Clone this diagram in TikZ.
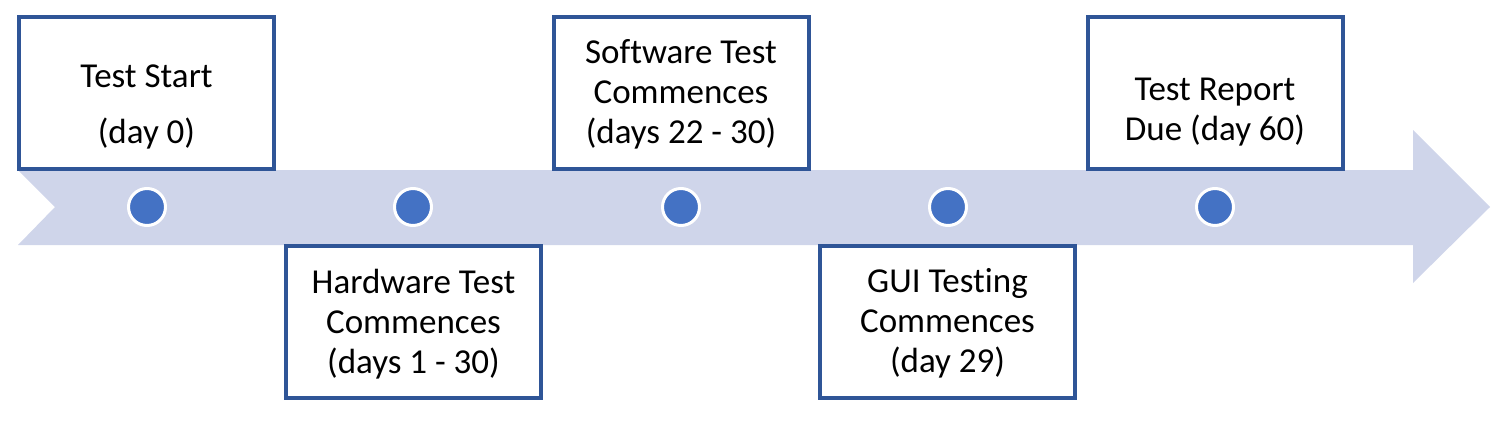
\documentclass[tikz,border=0pt]{standalone}
\usepackage{fontspec}
\setmainfont[Ligatures=NoCommon]{Carlito}
\definecolor{bandc}{HTML}{CFD5EA}
\definecolor{dotc}{HTML}{4472C4}
\definecolor{boxc}{HTML}{2F5597}
\tikzset{
  box/.style={draw=boxc, line width=4pt, fill=white, minimum width=255pt, minimum height=152pt, inner sep=0pt},
  txt/.style={align=center, font=\fontsize{35}{40}\selectfont, inner sep=0pt},
  dot/.style={circle, fill=dotc, draw=white, line width=3pt, minimum size=37pt, inner sep=0pt},
}
\begin{document}
\begin{tikzpicture}[x=1pt,y=-1pt]
\useasboundingbox (0,0) rectangle (1505,423);
% band arrow
\fill[bandc] (18,170) -- (1413,170) -- (1413,130) -- (1490,207) -- (1413,283) -- (1413,245) -- (18,245) -- (55,207) -- cycle;
% boxes
\node[box] (b1) at (146.5,93) {};
\node[box] (b2) at (413.5,322) {};
\node[box] (b3) at (681,93) {};
\node[box] (b4) at (947.5,322) {};
\node[box] (b5) at (1215,93) {};
% texts
\node[txt] (t1) at (146.5,107) {Test Start\\[16pt](day 0)};
\node[txt] (t2) at (413.5,324) {Hardware Test\\Commences\\(days 1 - 30)};
\node[txt] (t3) at (681,94) {Software Test\\Commences\\(days 22 - 30)};
\node[txt] (t4) at (947.5,323) {GUI Testing\\Commences\\(day 29)};
\node[txt] (t5) at (1215,112) {Test Report\\Due (day 60)};
% dots
\node[dot] (d1) at (147,207) {};
\node[dot] (d2) at (413,207) {};
\node[dot] (d3) at (681,207) {};
\node[dot] (d4) at (948,207) {};
\node[dot] (d5) at (1215,207) {};
\end{tikzpicture}
\end{document}
